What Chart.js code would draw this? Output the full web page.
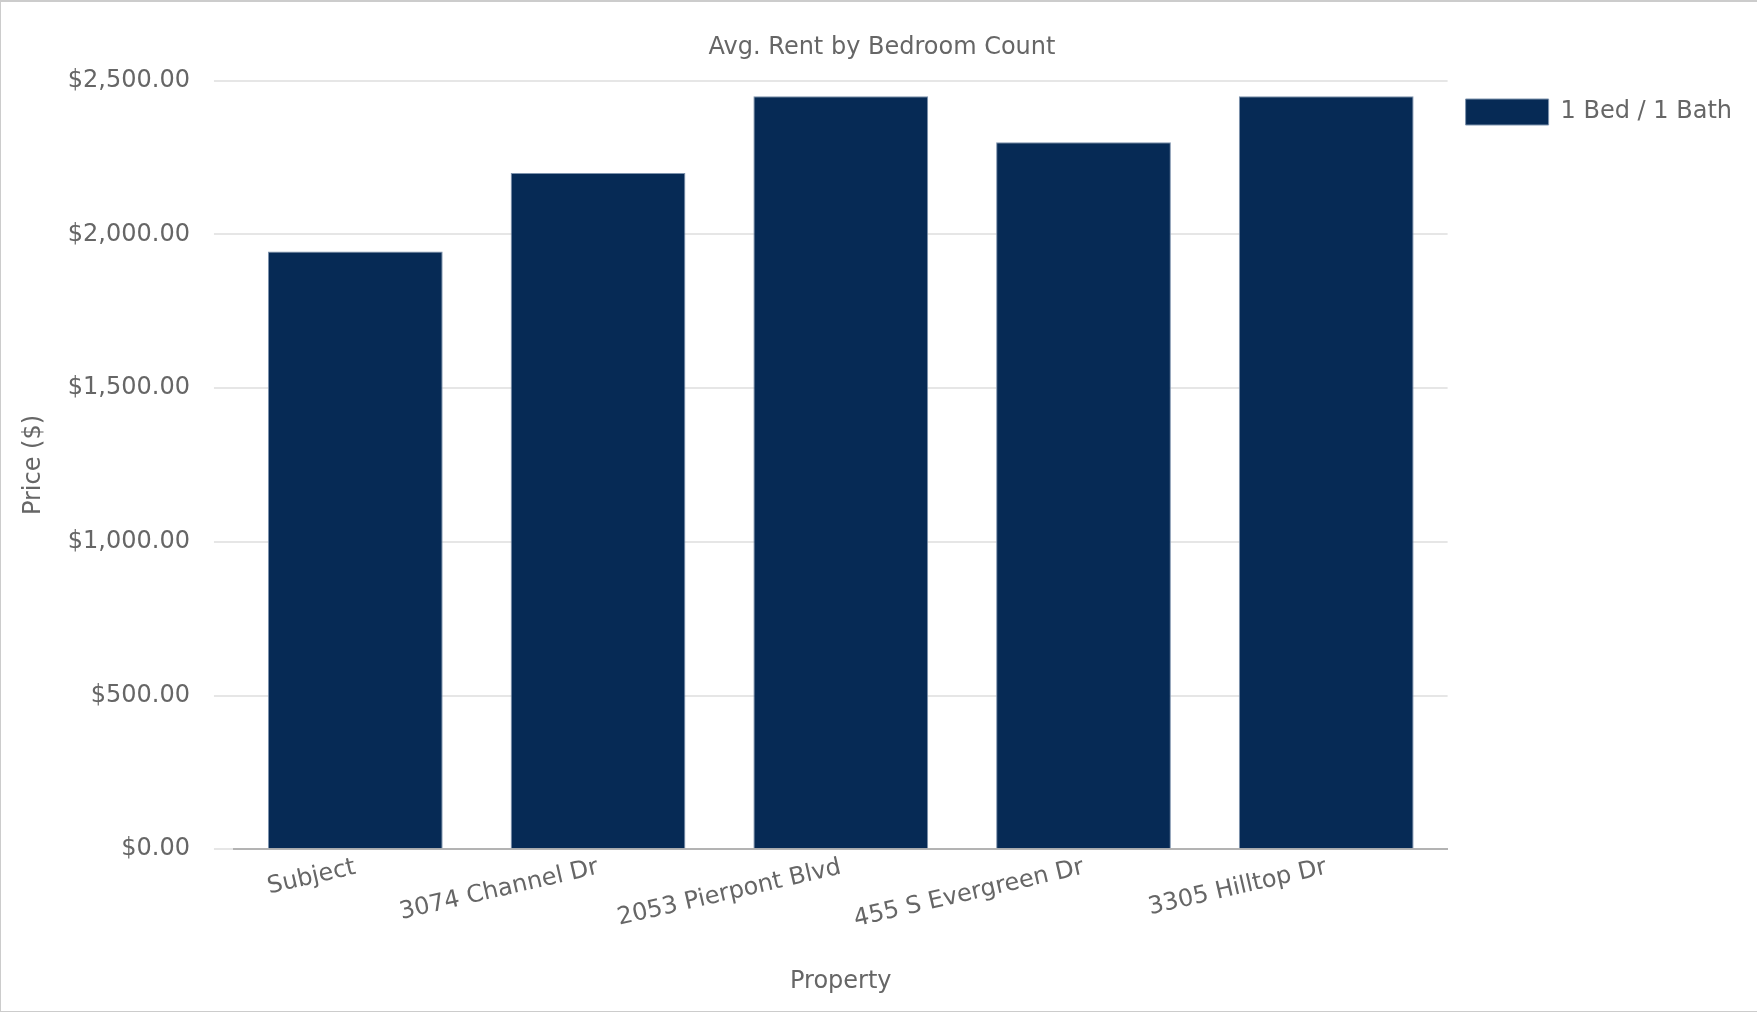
<!DOCTYPE html>
<html>
<head>
<meta charset="utf-8">
<script src="https://cdn.jsdelivr.net/npm/chart.js@4.4.0/dist/chart.umd.min.js"></script>
<style>
    html, body { margin: 0; padding: 0; background: #fff; overflow: hidden; }
    #frame {
        position: absolute; left: 0; top: 0;
        width: 1771px; height: 1012px;
        box-sizing: border-box;
        border: 1px solid #cccccc; border-top-width: 2px; border-right: none;
    }
    #wrap { position: relative; width: 100%; height: 100%; }
</style>
</head>
<body>
<div id="frame"><div id="wrap"><canvas id="rentChart"></canvas></div></div>
<script>
    // data
    var properties = ['Subject', '3074 Channel Dr', '2053 Pierpont Blvd', '455 S Evergreen Dr', '3305 Hilltop Dr'];
    var oneBedOneBath = [1945, 2200, 2450, 2300, 2450];
    var priceTicks = [0, 500, 1000, 1500, 2000, 2500];

    var textColor = '#666666';
    var navy = '#062a55';

    Chart.defaults.font.family = '"DejaVu Sans", Verdana, sans-serif';
    Chart.defaults.font.size = 24;
    Chart.defaults.color = textColor;

    function money(v) {
        return '$' + Number(v).toLocaleString('en-US', { minimumFractionDigits: 2, maximumFractionDigits: 2 });
    }

    var ctx = document.getElementById('rentChart');

    var chart = new Chart(ctx, {
        type: 'bar',
        data: {
            labels: properties,
            datasets: [{
                label: '1 Bed / 1 Bath',
                data: oneBedOneBath,
                backgroundColor: navy,
                borderColor: '#7d92ad',
                borderWidth: 1
            }]
        },
        options: {
            responsive: true,
            maintainAspectRatio: false,
            animation: false,
            layout: {
                padding: { top: 27, left: 21, right: 29, bottom: 11 }
            },
            plugins: {
                title: {
                    display: true,
                    text: 'Avg. Rent by Bedroom Count',
                    font: { weight: 'normal', size: 24 },
                    color: textColor,
                    padding: { top: 4, bottom: 19 }
                },
                legend: {
                    position: 'right',
                    align: 'start',
                    // empty title only pushes the legend item down
                    title: { display: true, text: '', font: { size: 10 }, padding: { top: 40, bottom: 0 } },
                    labels: {
                        boxWidth: 83,
                        boxHeight: 26,
                        padding: 18,
                        color: textColor
                    }
                },
                tooltip: { enabled: false }
            },
            scales: {
                x: {
                    grid: { display: false, drawTicks: false },
                    border: { display: true, color: '#b3b3b3', width: 2 },
                    ticks: { minRotation: 13, maxRotation: 13, padding: 4, color: textColor },
                    title: {
                        display: true,
                        text: 'Property',
                        color: textColor,
                        padding: { top: 29, bottom: 4 }
                    }
                },
                y: {
                    min: priceTicks[0],
                    max: priceTicks[priceTicks.length - 1],
                    afterBuildTicks: function (axis) {
                        axis.ticks = priceTicks.map(function (v) { return { value: v }; });
                    },
                    grid: { color: '#e6e6e6', lineWidth: 2, tickLength: 20 },
                    border: { display: false },
                    ticks: {
                        padding: 24,
                        color: textColor,
                        callback: function (value) { return money(value); }
                    },
                    title: {
                        display: true,
                        text: 'Price ($)',
                        color: textColor,
                        padding: { top: -3, bottom: -4 }
                    }
                }
            }
        }
    });
</script>
</body>
</html>
